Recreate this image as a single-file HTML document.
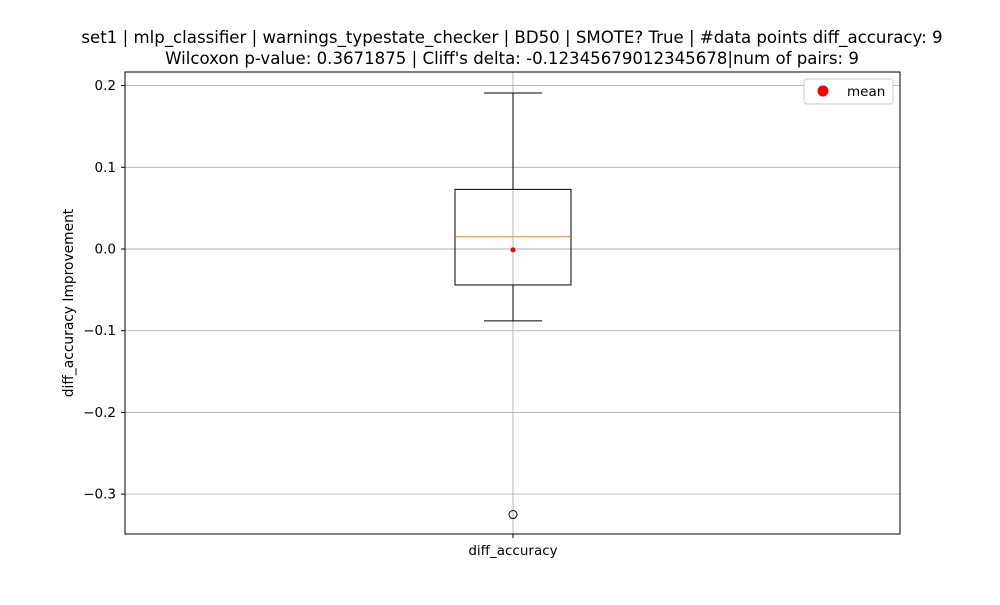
<!DOCTYPE html>
<html><head><meta charset="utf-8"><style>
body{margin:0;background:#fff;font-family:"Liberation Sans","DejaVu Sans",sans-serif;}
</style></head><body>
<svg width="1000" height="600" xmlns="http://www.w3.org/2000/svg" font-family="DejaVu Sans, Liberation Sans, sans-serif">
<rect width="1000" height="600" fill="#fff"/>
<text x="512" y="43" text-anchor="middle" font-size="16.6">set1 | mlp_classifier | warnings_typestate_checker | BD50 | SMOTE? True | #data points diff_accuracy: 9</text>
<text x="512" y="64" text-anchor="middle" font-size="16.6">Wilcoxon p-value: 0.3671875 | Cliff's delta: -0.12345679012345678|num of pairs: 9</text>
<g id="grid"></g>
<g id="box"></g>
<rect x="125" y="72" width="775" height="462" fill="none" stroke="#000" stroke-width="1"/>
<text x="73" y="303" text-anchor="middle" font-size="13.8" transform="rotate(-90 73 303)">diff_accuracy Improvement</text>
<g>
<rect x="804" y="79" width="89" height="25" rx="3" fill="#fff" stroke="#ccc"/>
<circle cx="823" cy="91" r="5.5" fill="red"/>
<text x="847" y="96" font-size="13.5">mean</text>
</g>
<script>
const ticks=[0.2,0.1,0.0,-0.1,-0.2,-0.3];
const tickLabels=["0.2","0.1","0.0","\u22120.1","\u22120.2","\u22120.3"];
const stats=[-0.088,-0.044,0.015,0.073,0.191];
const outliers=[-0.325];
const meanVal=[-0.001];
const categories=["diff_accuracy"];
const NS="http://www.w3.org/2000/svg";
function y(v){return 249-v*817;}
const cx=513;
function mk(p,t,a){const e=document.createElementNS(NS,t);for(const k in a)e.setAttribute(k,a[k]);p.appendChild(e);return e;}
const g=document.getElementById('grid');
ticks.forEach((t,i)=>{
 const l=mk(g,'line',{x1:125,x2:900,y1:y(t),y2:y(t),stroke:'#b0b0b0','stroke-width':0.9});
 
 
 mk(g,'line',{x1:121,x2:125,y1:y(t),y2:y(t),stroke:'#000'});
 const tx=mk(g,'text',{x:116,y:y(t)+4.5,'text-anchor':'end','font-size':13.5});
 tx.textContent=tickLabels[i];
 
 
});
mk(g,'line',{x1:cx,x2:cx,y1:72,y2:534,stroke:'#b0b0b0','stroke-width':0.9});
mk(g,'line',{x1:cx,x2:cx,y1:534,y2:538,stroke:'#000'});
const xl=mk(g,'text',{x:cx,y:555,'text-anchor':'middle','font-size':13.5});
xl.textContent=categories[0];


const b=document.getElementById('box');
const [wl,q1,med,q3,wh]=stats;
mk(b,'line',{x1:cx,x2:cx,y1:y(q1),y2:y(wl),stroke:'#000'});
mk(b,'line',{x1:cx,x2:cx,y1:y(q3),y2:y(wh),stroke:'#000'});
mk(b,'line',{x1:484,x2:542,y1:y(wl),y2:y(wl),stroke:'#000'});
mk(b,'line',{x1:484,x2:542,y1:y(wh),y2:y(wh),stroke:'#000'});
const r=mk(b,'rect',{x:455,y:y(q3),width:116,height:y(q1)-y(q3),fill:'none',stroke:'#000'});


const m=mk(b,'line',{x1:455,x2:571,y1:y(med),y2:y(med),stroke:'#ff7f0e'});


outliers.forEach(o=>{const c=mk(b,'circle',{cx:cx,cy:y(o),r:4,fill:'none',stroke:'#000'});
 
 });
meanVal.forEach(o=>{const c=mk(b,'circle',{cx:cx,cy:y(o),r:2.5,fill:'red'});
 
 });
</script>
</svg>
</body></html>
